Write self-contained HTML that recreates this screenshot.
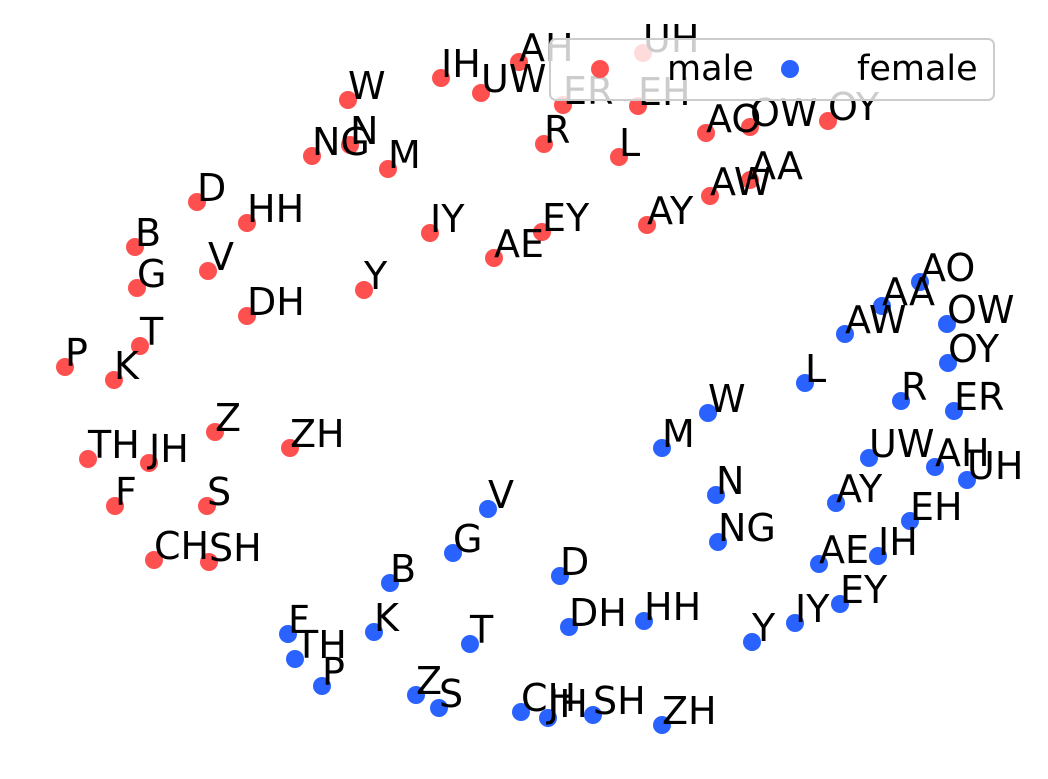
<!DOCTYPE html>
<html><head><meta charset="utf-8"><style>
html,body{margin:0;padding:0;background:#fff;}
svg{display:block;font-family:"DejaVu Sans","Liberation Sans",sans-serif;}
</style></head><body>
<svg id="chart" width="1048" height="779" viewBox="0 0 1048 779" xmlns="http://www.w3.org/2000/svg">
<g id="marks"></g>
<g id="legend">
  <rect x="550" y="39" width="444" height="61" rx="6" fill="#fff" fill-opacity="0.8" stroke="#ccc" stroke-width="2"/>
  <circle cx="600" cy="69" r="9" fill="#ff5050"/>
  <text x="667" y="80" font-size="35">male</text>
  <circle cx="790" cy="69" r="9" fill="#2962ff"/>
  <text x="857" y="80" font-size="35">female</text>
</g>
</svg>
<script>
const maleLabels=["AH","UH","IH","UW","W","ER","EH","AO","OW","OY","R","L","NG","N","M","AA","AW","D","HH","IY","EY","AY","AE","B","V","G","Y","DH","T","P","K","Z","TH","JH","ZH","F","S","CH","SH"];
const maleX=[519,643,441,481,348,563,638,706,750,828,544,619,312,350,388,750,710,197,247,430,542,647,494,135,208,137,364,247,140,65,114,215,88,149,290,115,207,154,209];
const maleY=[62,53,78,93,100,105,106,133,127,121,144,157,156,145,169,180,196,202,223,233,232,225,258,247,271,288,290,316,346,367,380,432,459,463,448,506,506,560,562];
const femaleLabels=["AO","AA","AW","OW","OY","L","R","ER","W","M","UW","AH","UH","N","AY","V","EH","IH","NG","G","AE","D","B","EY","IY","HH","DH","F","K","T","Y","TH","P","Z","S","CH","JH","SH","ZH"];
const femaleX=[920,882,845,947,948,805,901,954,708,662,869,935,967,716,836,488,910,878,718,453,819,560,390,840,795,644,569,288,374,470,752,295,322,416,439,521,548,593,662];
const femaleY=[282,306,334,324,363,383,401,411,413,448,458,467,480,495,503,509,521,556,542,553,564,576,583,604,623,621,627,634,632,644,642,659,686,695,708,712,718,715,725];
const xDomain=[0,1048], yDomain=[0,779];
function xScale(v){return (v-xDomain[0])/(xDomain[1]-xDomain[0])*1048;}
function yScale(v){return (v-yDomain[0])/(yDomain[1]-yDomain[0])*779;}
const NS="http://www.w3.org/2000/svg";
const g=document.getElementById('marks');
function series(labels,xs,ys,color,name){
  const pts=document.createElementNS(NS,'g');
  
  
  const txt=document.createElementNS(NS,'g');
  
  
  for(let i=0;i<labels.length;i++){
    const c=document.createElementNS(NS,'circle');
    c.setAttribute('cx',xScale(xs[i]));c.setAttribute('cy',yScale(ys[i]));
    c.setAttribute('r',9);c.setAttribute('fill',color);
    
    
    pts.appendChild(c);
    const t=document.createElementNS(NS,'text');
    t.setAttribute('x',xScale(xs[i]));t.setAttribute('y',yScale(ys[i])-1);
    t.setAttribute('font-size','38');
    t.textContent=labels[i];
    
    
    txt.appendChild(t);
  }
  g.appendChild(pts);g.appendChild(txt);
}
series(maleLabels,maleX,maleY,'#ff5050','male');
series(femaleLabels,femaleX,femaleY,'#2962ff','female');
</script>
</body></html>
